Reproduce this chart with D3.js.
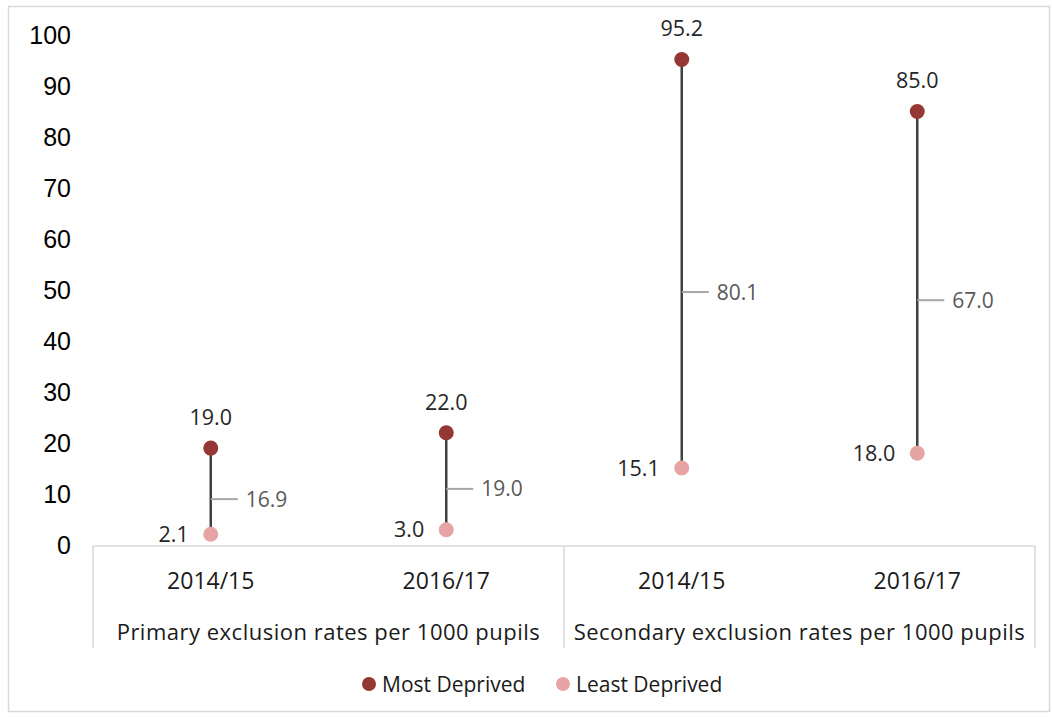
<!DOCTYPE html>
<html>
<head>
<meta charset="utf-8">
<script src="https://cdn.jsdelivr.net/npm/d3@7"></script>
<style>
  body { margin: 0; background: #fff; }
  text { font-family: "Open Sans", "Noto Sans", sans-serif; }
  .ytick { font-family: "Liberation Sans", Arial, sans-serif; }
</style>
</head>
<body>
<div id="wrapper"></div>
<script>
// data
const groups = ["Primary exclusion rates per 1000 pupils", "Secondary exclusion rates per 1000 pupils"];
const years = ["2014/15", "2016/17", "2014/15", "2016/17"];
const mostDeprived = [19.0, 22.0, 95.2, 85.0];
const leastDeprived = [2.1, 3.0, 15.1, 18.0];
const gaps = [16.9, 19.0, 80.1, 67.0];
const gapLabelAt = [9.0, 11.0, 49.6, 48.0]; // where the gap label sits on the value axis
const yTicks = [0, 10, 20, 30, 40, 50, 60, 70, 80, 90, 100];

const colMost = "#953735";
const colLeast = "#e6a5a4";

const dimensions = { width: 1052, height: 717 };

const svg = d3.select("#wrapper").append("svg")
  .attr("width", dimensions.width)
  .attr("height", dimensions.height);

// chart frame
svg.append("rect")
  .attr("x", 8.5).attr("y", 6.5)
  .attr("width", 1041).attr("height", 705)
  .attr("fill", "none").attr("stroke", "#d9d9d9").attr("stroke-width", 1.5);

const xScale = d3.scaleBand()
  .domain(d3.range(years.length))
  .range([93, 1035]);

const yScale = d3.scaleLinear()
  .domain([0, 100])
  .range([545, 35]);

// y tick labels (no axis line)
svg.selectAll(".ytick")
  .data(yTicks)
  .join("text")
  .attr("class", "ytick")
  .attr("x", 71)
  .attr("y", d => yScale(d))
  .attr("dy", "0.36em")
  .attr("text-anchor", "end")
  .attr("font-size", 25)
  .attr("fill", "#000")
  .text(d => d);

// category axis with grouped labels
const axisY = yScale(0) + 1;
const grid = "#d9d9d9";
svg.append("line")
  .attr("x1", xScale.range()[0]).attr("x2", xScale.range()[1])
  .attr("y1", axisY).attr("y2", axisY)
  .attr("stroke", grid).attr("stroke-width", 1.5);

const groupEdges = [0, 2, 4].map(i => i < 4 ? xScale(i) : xScale(3) + xScale.bandwidth());
svg.selectAll(".sep")
  .data(groupEdges)
  .join("line")
  .attr("class", "sep")
  .attr("x1", d => d).attr("x2", d => d)
  .attr("y1", axisY).attr("y2", 648)
  .attr("stroke", grid).attr("stroke-width", 1.5);

svg.selectAll(".year")
  .data(years)
  .join("text")
  .attr("class", "year")
  .attr("x", (d, i) => xScale(i) + xScale.bandwidth() / 2)
  .attr("y", 589)
  .attr("text-anchor", "middle")
  .attr("font-size", 23)
  .attr("fill", "#1a1a1a")
  .text(d => d);

svg.selectAll(".group")
  .data(groups)
  .join("text")
  .attr("class", "group")
  .attr("x", (d, i) => (groupEdges[i] + groupEdges[i + 1]) / 2)
  .attr("y", 640)
  .attr("text-anchor", "middle")
  .attr("font-size", 22)
  .attr("letter-spacing", 0.5)
  .attr("fill", "#1a1a1a")
  .text(d => d);

// dumbbells
const cx = i => xScale(i) + xScale.bandwidth() / 2;
const idx = d3.range(years.length);

svg.selectAll(".stem")
  .data(idx)
  .join("line")
  .attr("class", "stem")
  .attr("x1", cx).attr("x2", cx)
  .attr("y1", i => yScale(mostDeprived[i]))
  .attr("y2", i => yScale(leastDeprived[i]))
  .attr("stroke", "#404040").attr("stroke-width", 2.5);

svg.selectAll(".gapTick")
  .data(idx)
  .join("line")
  .attr("class", "gapTick")
  .attr("x1", cx).attr("x2", i => cx(i) + 27)
  .attr("y1", i => yScale(gapLabelAt[i]))
  .attr("y2", i => yScale(gapLabelAt[i]))
  .attr("stroke", "#a6a6a6").attr("stroke-width", 2);

svg.selectAll(".gapLabel")
  .data(idx)
  .join("text")
  .attr("class", "gapLabel")
  .attr("x", i => cx(i) + 35)
  .attr("y", i => yScale(gapLabelAt[i]))
  .attr("dy", "0.36em")
  .attr("font-size", 21)
  .attr("fill", "#595959")
  .text(i => gaps[i].toFixed(1));

svg.selectAll(".most")
  .data(idx)
  .join("circle")
  .attr("class", "most")
  .attr("cx", cx)
  .attr("cy", i => yScale(mostDeprived[i]))
  .attr("r", 7.5)
  .attr("fill", colMost);

svg.selectAll(".least")
  .data(idx)
  .join("circle")
  .attr("class", "least")
  .attr("cx", cx)
  .attr("cy", i => yScale(leastDeprived[i]))
  .attr("r", 7.5)
  .attr("fill", colLeast);

svg.selectAll(".mostLabel")
  .data(idx)
  .join("text")
  .attr("class", "mostLabel")
  .attr("x", cx)
  .attr("y", i => yScale(mostDeprived[i]) - 31)
  .attr("dy", "0.36em")
  .attr("text-anchor", "middle")
  .attr("font-size", 21.5)
  .attr("fill", "#262626")
  .text(i => mostDeprived[i].toFixed(1));

svg.selectAll(".leastLabel")
  .data(idx)
  .join("text")
  .attr("class", "leastLabel")
  .attr("x", i => cx(i) - 22)
  .attr("y", i => yScale(leastDeprived[i]))
  .attr("dy", "0.36em")
  .attr("text-anchor", "end")
  .attr("font-size", 21.5)
  .attr("fill", "#262626")
  .text(i => leastDeprived[i].toFixed(1));

// legend
const legendItems = [
  { name: "Most Deprived", color: colMost, x: 369 },
  { name: "Least Deprived", color: colLeast, x: 563 }
];
const lg = svg.selectAll(".legend")
  .data(legendItems)
  .join("g")
  .attr("class", "legend")
  .attr("transform", d => `translate(${d.x},684)`);
lg.append("circle").attr("r", 7).attr("fill", d => d.color);
lg.append("text")
  .attr("x", 13)
  .attr("dy", "0.36em")
  .attr("font-size", 21)
  .attr("fill", "#1a1a1a")
  .text(d => d.name);
</script>
</body>
</html>
